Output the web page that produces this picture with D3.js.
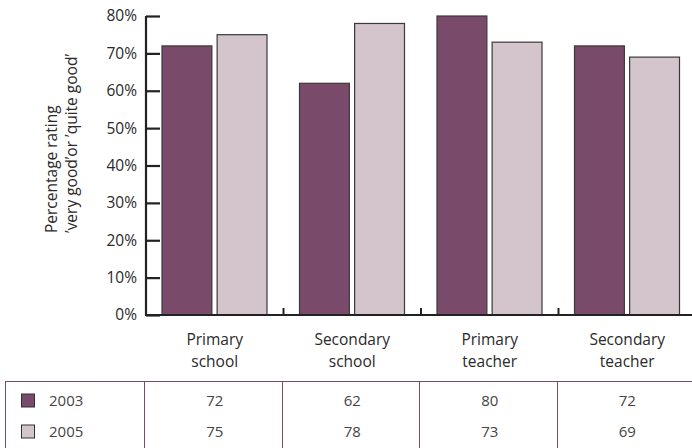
<!DOCTYPE html>
<html><head><meta charset="utf-8">
<script src="https://cdn.jsdelivr.net/npm/d3@7"></script>
<style>
html,body{margin:0;padding:0;background:#fff;}
svg{display:block;font-family:"Open Sans",sans-serif;}
</style></head>
<body><svg id="c" width="692" height="448"></svg>
<script>
const categories = [["Primary","school"],["Secondary","school"],["Primary","teacher"],["Secondary","teacher"]];
const seriesNames = ["2003","2005"];
const values2003 = [72, 62, 80, 72];
const values2005 = [75, 78, 73, 69];
const yTicks = [0,10,20,30,40,50,60,70,80];
const yLabelLines = ["Percentage rating","\u2019very good\u2019or \u2019quite good\u2019"];
const colors = ["#7a4a6b","#d4c4cc"];

const svg = d3.select("#c");
const catKeys = categories.map(c => c.join(" "));
const seriesVals = [values2003, values2005];

const x0 = d3.scaleBand().domain(catKeys).range([146, 696]);
const x1 = d3.scaleBand().domain(seriesNames).range([16, 121]).paddingInner(0.0952);
const y = d3.scaleLinear().domain([0, 80]).range([315, 16]);

// bars
catKeys.forEach((k, i) => {
  seriesNames.forEach((s, j) => {
    const v = seriesVals[j][i];
    svg.append("rect")
      .attr("x", x0(k) + x1(s))
      .attr("y", y(v))
      .attr("width", x1.bandwidth())
      .attr("height", y(0) - y(v))
      .attr("fill", colors[j])
      .attr("stroke", "#3a3a3a")
      .attr("stroke-width", 1.2);
  });
});

// y axis
const yAxis = d3.axisRight(y).tickValues(yTicks).tickSize(14).tickFormat("");
const ga = svg.append("g").attr("transform", "translate(146,0)").call(yAxis);
ga.select(".domain").remove();
ga.selectAll(".tick line").attr("stroke", "#222").attr("stroke-width", 2.2);
svg.append("line").attr("x1", 146).attr("x2", 146).attr("y1", y(80)).attr("y2", y(0) + 1)
  .attr("stroke", "#222").attr("stroke-width", 2.2);
yTicks.forEach(t => {
  svg.append("text").attr("x", 137).attr("y", y(t)).attr("dy", "0.35em")
    .attr("text-anchor", "end").attr("font-size", 15.5).attr("fill", "#2a2a2a")
    .text(t + "%");
});

// x axis
svg.append("line").attr("x1", 145).attr("x2", 692).attr("y1", y(0)).attr("y2", y(0))
  .attr("stroke", "#222").attr("stroke-width", 2.2);
catKeys.slice(1).forEach(k => {
  svg.append("line").attr("x1", x0(k)).attr("x2", x0(k)).attr("y1", y(0)).attr("y2", y(0) - 7)
    .attr("stroke", "#222").attr("stroke-width", 2);
});
categories.forEach((c, i) => {
  const cx = x0(catKeys[i]) + x0.bandwidth() / 2;
  c.forEach((line, li) => {
    svg.append("text").attr("x", cx).attr("y", 345 + li * 22)
      .attr("text-anchor", "middle").attr("font-size", 15.5).attr("fill", "#2a2a2a")
      .text(line);
  });
});

// y label
yLabelLines.forEach((line, i) => {
  svg.append("text")
    .attr("transform", `translate(${57 + i * 20},233) rotate(-90)`)
    .attr("text-anchor", "start").attr("font-size", 15.5).attr("fill", "#2a2a2a")
    .text(line);
});

// table
const tcol = "#7a4a6b";
svg.append("line").attr("x1", 5).attr("x2", 692).attr("y1", 381.5).attr("y2", 381.5)
  .attr("stroke", tcol).attr("stroke-width", 1);
svg.append("line").attr("x1", 5.5).attr("x2", 5.5).attr("y1", 381).attr("y2", 448)
  .attr("stroke", tcol).attr("stroke-width", 1);
catKeys.forEach(k => {
  const xx = Math.round(x0(k)) - 1.5;
  svg.append("line").attr("x1", xx).attr("x2", xx).attr("y1", 381).attr("y2", 448)
    .attr("stroke", tcol).attr("stroke-width", 1);
});
seriesNames.forEach((s, j) => {
  const ry = 401 + j * 31;
  svg.append("rect").attr("x", 21.5).attr("y", ry - 7).attr("width", 13).attr("height", 13)
    .attr("fill", colors[j]).attr("stroke", "#333").attr("stroke-width", 1);
  svg.append("text").attr("x", 49).attr("y", ry).attr("dy", "0.35em")
    .attr("font-size", 15).attr("fill", "#444").text(s);
  catKeys.forEach((k, i) => {
    svg.append("text").attr("x", x0(k) + x0.bandwidth() / 2).attr("y", ry).attr("dy", "0.35em")
      .attr("text-anchor", "middle").attr("font-size", 15).attr("fill", "#444")
      .text(seriesVals[j][i]);
  });
});
</script></body></html>
